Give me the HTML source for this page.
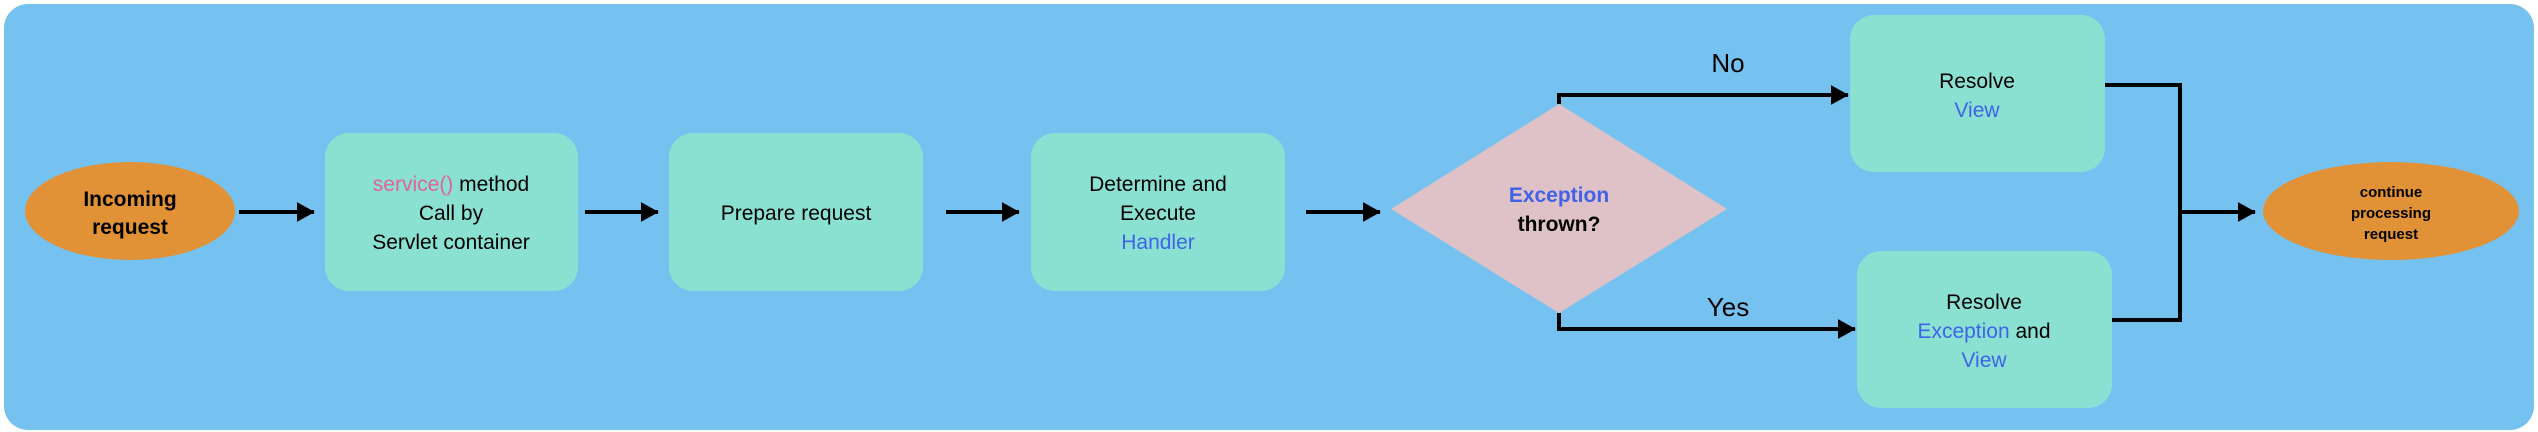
<!DOCTYPE html>
<html><head><meta charset="utf-8"><style>
html,body{margin:0;padding:0;background:#fff;}
svg{display:block;}
text{font-family:"Liberation Sans",sans-serif;}
</style></head><body>
<svg width="2538" height="432" viewBox="0 0 2538 432" xmlns="http://www.w3.org/2000/svg">
<defs>
<marker id="ah" markerWidth="5" markerHeight="5" refX="4.3" refY="2.5" orient="auto" markerUnits="strokeWidth">
<path d="M0,0 L4.5,2.5 L0,5 Z" fill="#000"/>
</marker>
</defs>
<rect x="4" y="4" width="2530" height="426" rx="24" fill="#75C2F0"/>
<!-- ellipses -->
<ellipse cx="130" cy="211" rx="105" ry="49" fill="#E19136"/>
<text x="130" y="206" font-size="21" font-weight="bold" text-anchor="middle">Incoming</text>
<text x="130" y="234" font-size="21" font-weight="bold" text-anchor="middle">request</text>
<ellipse cx="2391" cy="211" rx="128" ry="49" fill="#E19136"/>
<g font-size="15" font-weight="bold" text-anchor="middle">
<text x="2391" y="197">continue</text>
<text x="2391" y="218">processing</text>
<text x="2391" y="239">request</text>
</g>
<!-- boxes -->
<g fill="#8AE1D2">
<rect x="325" y="133" width="253" height="158" rx="24"/>
<rect x="669" y="133" width="254" height="158" rx="24"/>
<rect x="1031" y="133" width="254" height="158" rx="24"/>
<rect x="1850" y="15" width="255" height="157" rx="24"/>
<rect x="1857" y="251" width="255" height="157" rx="24"/>
</g>
<polygon points="1559,104 1727,209 1559,313 1391,209" fill="#DFC2C7"/>
<g font-size="21" text-anchor="middle">
<text x="451" y="191"><tspan fill="#E0629C">service()</tspan> method</text>
<text x="451" y="220">Call by</text>
<text x="451" y="249">Servlet container</text>
<text x="796" y="220">Prepare request</text>
<text x="1158" y="191">Determine and</text>
<text x="1158" y="220">Execute</text>
<text x="1158" y="249" fill="#3F62E8">Handler</text>
<text x="1977" y="88">Resolve</text>
<text x="1977" y="117" fill="#3F62E8">View</text>
<text x="1984" y="309">Resolve</text>
<text x="1984" y="338"><tspan fill="#3F62E8">Exception</tspan> and</text>
<text x="1984" y="367" fill="#3F62E8">View</text>
<text x="1559" y="202" font-weight="bold" fill="#3F62E8">Exception</text>
<text x="1559" y="231" font-weight="bold">thrown?</text>
<text x="1728" y="72" font-size="26">No</text>
<text x="1728" y="316" font-size="26">Yes</text>
</g>
<!-- connectors -->
<g stroke="#000" stroke-width="4" fill="none">
<path d="M239,212 H314" marker-end="url(#ah)"/>
<path d="M585,212 H658" marker-end="url(#ah)"/>
<path d="M946,212 H1019" marker-end="url(#ah)"/>
<path d="M1306,212 H1380" marker-end="url(#ah)"/>
<path d="M1559,104 V95 H1848" marker-end="url(#ah)"/>
<path d="M1559,313 V329 H1855" marker-end="url(#ah)"/>
<path d="M2105,85 H2180 V320 H2112"/>
<path d="M2180,212 H2255" marker-end="url(#ah)"/>
</g>
</svg>
</body></html>
